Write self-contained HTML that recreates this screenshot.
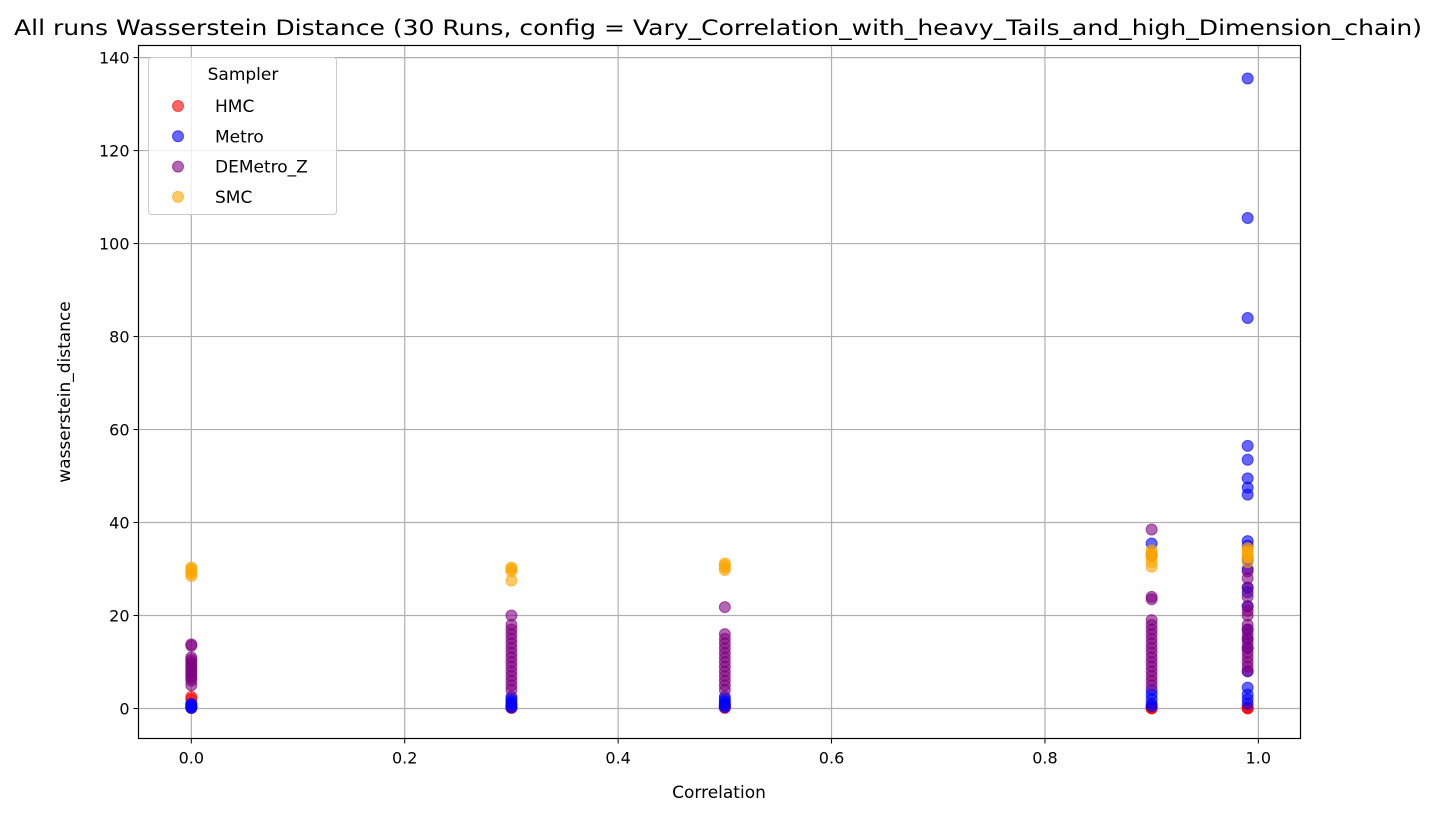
<!DOCTYPE html>
<html><head><meta charset="utf-8"><style>
body{margin:0;background:#fff;}
svg text{font-family:"DejaVu Sans","Liberation Sans",sans-serif;fill:#000;}
</style></head><body>
<svg id="chart" width="1438" height="817">
<rect width="1438" height="817" fill="#fff"/>
<g id="grid"></g>
<g id="marks"></g>
<rect x="138.5" y="45.5" width="1162" height="693" fill="none" stroke="#000" stroke-width="1.2"/>
<g id="ticks"></g>
<text x="14" y="35" textLength="1408" lengthAdjust="spacingAndGlyphs" font-size="21">All runs Wasserstein Distance (30 Runs, config = Vary_Correlation_with_heavy_Tails_and_high_Dimension_chain)</text>
<text x="719" y="798" text-anchor="middle" font-size="17">Correlation</text>
<text transform="translate(70,392) rotate(-90)" text-anchor="middle" font-size="17">wasserstein_distance</text>
<g id="legend">
<rect x="148.5" y="57.5" width="188" height="157" rx="3" fill="#fff" fill-opacity="0.8" stroke="#ccc"/>
<text x="243" y="80" text-anchor="middle" font-size="17">Sampler</text>
</g>
</svg>
<script>
const categories=[0.0,0.3,0.5,0.9,0.99];
const samplers=["HMC","Metro","DEMetro_Z","SMC"];
const colors=["#ff0000","#0000ff","#800080","#ffa500"];
const xTicks=[0.0,0.2,0.4,0.6,0.8,1.0];
const yTicks=[0,20,40,60,80,100,120,140];
const hmcVals=[[0.1,0.3,0.5,1.0,2.0,2.5],[0.1,0.2,0.4,0.8],[0.1,0.3,0.6,1.0],[0.0,0.1,0.2,0.3],[0.0,0.1,0.2]];
const metroVals=[[0.1,0.3,0.5,0.8,1.0],[0.2,0.5,1.0,1.5,2.0,2.5],[0.3,0.6,1.0,1.5,2.0,2.5],[0.5,1.0,2.0,3.0,4.0,33.0,35.5],[1.0,2.0,3.0,4.5,8.0,13.0,15.0,17.0,22.0,25.0,26.0,30.0,32.0,35.0,36.0,46.0,47.5,49.5,53.5,56.5,84.0,105.5,135.5]];
const demVals=[[5.0,6.0,6.5,7.0,7.5,8.0,8.5,9.0,9.5,10.0,10.5,11.0,13.5,13.8],[4.0,5.0,6.0,7.0,8.0,9.0,10.0,11.0,12.0,13.0,14.0,15.0,16.0,17.0,18.0,20.0],[4.0,5.0,6.0,7.0,8.0,9.0,10.0,11.0,12.0,13.0,14.0,15.0,16.0,21.8],[5.0,6.0,7.0,8.0,9.0,10.0,11.0,12.0,13.0,14.0,15.0,16.0,17.0,18.0,19.0,23.5,24.0,38.5],[8.0,9.0,10.0,11.0,12.0,13.0,14.0,15.0,16.0,17.0,18.0,20.0,21.0,22.0,24.0,26.0,28.0,29.5]];
const smcVals=[[28.5,29.0,29.5,30.0,30.3],[27.5,29.5,30.0,30.3],[29.8,30.3,30.8,31.2],[30.5,31.5,32.5,33.0,33.5,34.0],[31.5,32.5,33.0,33.5,34.0,34.5]];
const allVals=[hmcVals,metroVals,demVals,smcVals];
const NS="http://www.w3.org/2000/svg";
const X0=138.5,X1=1300.5,Y0=45.5,Y1=738.5,xmin=-0.0495,xmax=1.0395,ymin=-6.45,ymax=142.6;
function xs(v){return X0+(v-xmin)/(xmax-xmin)*(X1-X0);}
function ys(v){return Y1-(v-ymin)/(ymax-ymin)*(Y1-Y0);}
function mk(t,a){const e=document.createElementNS(NS,t);for(const k in a)e.setAttribute(k,a[k]);return e;}
const grid=document.getElementById('grid'),ticks=document.getElementById('ticks'),marks=document.getElementById('marks');
xTicks.forEach(t=>{const x=xs(t);
const l=mk('line',{x1:x,x2:x,y1:Y0,y2:Y1,stroke:'#b0b0b0','stroke-width':1.2});

grid.appendChild(l);
ticks.appendChild(mk('line',{x1:x,x2:x,y1:Y1,y2:Y1+5,stroke:'#000'}));
const tx=mk('text',{x:x,y:Y1+25,'text-anchor':'middle','font-size':16});tx.textContent=t.toFixed(1);

ticks.appendChild(tx);});
yTicks.forEach(t=>{const y=ys(t);
const l=mk('line',{x1:X0,x2:X1,y1:y,y2:y,stroke:'#b0b0b0','stroke-width':1.2});

grid.appendChild(l);
ticks.appendChild(mk('line',{x1:X0-5,x2:X0,y1:y,y2:y,stroke:'#000'}));
const tx=mk('text',{x:X0-9,y:y+6,'text-anchor':'end','font-size':16});tx.textContent=t;

ticks.appendChild(tx);});
allVals.forEach((ser,si)=>{ser.forEach((vals,ci)=>{vals.forEach(v=>{
const c=mk('circle',{cx:xs(categories[ci]),cy:ys(v),r:5.5,fill:colors[si],'fill-opacity':0.6,stroke:colors[si],'stroke-opacity':0.6,'stroke-width':1});


marks.appendChild(c);});});});
const leg=document.getElementById('legend');
samplers.forEach((s,i)=>{const y=106+i*30.3;
const c=mk('circle',{cx:178,cy:y,r:5.5,fill:colors[i],'fill-opacity':0.6,stroke:colors[i],'stroke-opacity':0.6});

leg.appendChild(c);
const t=mk('text',{x:215,y:y+6,'font-size':17});t.textContent=s;

leg.appendChild(t);});
</script>
</body></html>
